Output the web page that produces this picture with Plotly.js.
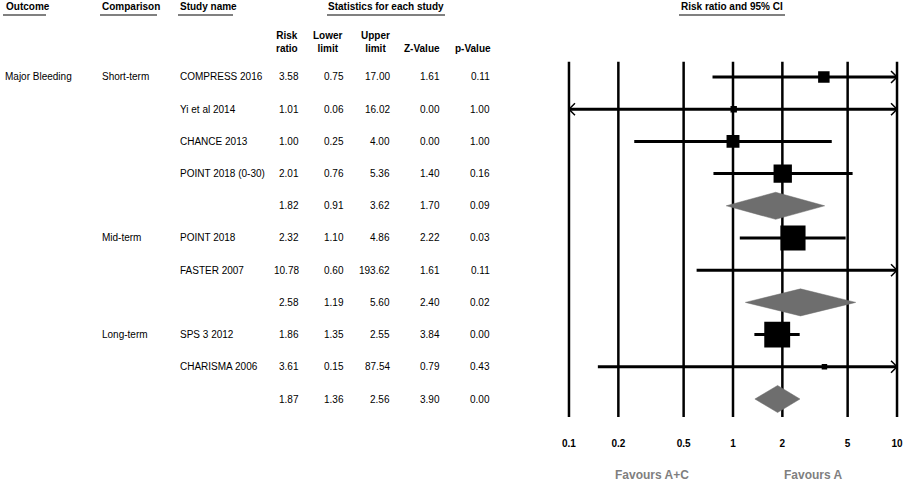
<!DOCTYPE html>
<html>
<head>
<meta charset="utf-8">
<script src="https://cdn.plot.ly/plotly-3.0.1.min.js"></script>
<style>html,body{margin:0;padding:0;background:#fff;}#chart{width:905px;height:484px;}</style>
</head>
<body>
<div id="chart"></div>
<script>
// ---- data ----
const outcomes    = ["Major Bleeding", "", "", "", "", "", "", "", "", "", ""];
const comparisons = ["Short-term", "", "", "", "", "Mid-term", "", "", "Long-term", "", ""];
const studyNames  = ["COMPRESS 2016", "Yi et al 2014", "CHANCE 2013", "POINT 2018 (0-30)", "",
                     "POINT 2018", "FASTER 2007", "", "SPS 3 2012", "CHARISMA 2006", ""];
const rowKinds    = ["study", "study", "study", "study", "summary",
                     "study", "study", "summary", "study", "study", "summary"];
const riskRatio   = [3.58, 1.01, 1.00, 2.01, 1.82, 2.32, 10.78, 2.58, 1.86, 3.61, 1.87];
const lowerLimit  = [0.75, 0.06, 0.25, 0.76, 0.91, 1.10, 0.60, 1.19, 1.35, 0.15, 1.36];
const upperLimit  = [17.00, 16.02, 4.00, 5.36, 3.62, 4.86, 193.62, 5.60, 2.55, 87.54, 2.56];
const zValue      = [1.61, 0.00, 0.00, 1.40, 1.70, 2.22, 1.61, 2.40, 3.84, 0.79, 3.90];
const pValue      = [0.11, 1.00, 1.00, 0.16, 0.09, 0.03, 0.11, 0.02, 0.00, 0.43, 0.00];
const tickValues  = [0.1, 0.2, 0.5, 1, 2, 5, 10];
const tickLabels  = ["0.1", "0.2", "0.5", "1", "2", "5", "10"];
const favourLeft  = "Favours A+C";
const favourRight = "Favours A";

// ---- layout constants ----
const W = 905, H = 484, PLOT_H = 433;
const FONT = "Liberation Sans, Arial, sans-serif";
const XMIN = 0.1, XMAX = 10;
const px = x => x / W;               // paper x from pixel
const py = y => 1 - y / PLOT_H;      // paper y from pixel
const rows = riskRatio.map((_, i) => i);

const traces = [];

// vertical reference lines
const vx = [], vy = [];
tickValues.forEach(v => { vx.push(v, v, null); vy.push(-0.47, 10.56, null); });
traces.push({type: "scatter", mode: "lines", x: vx, y: vy,
  line: {color: "#000", width: 2.5}, hoverinfo: "skip"});

// relative weights within each subgroup (inverse variance from the CI)
const invVar = rows.map(i => {
  const se = (Math.log(upperLimit[i]) - Math.log(lowerLimit[i])) / (2 * 1.96);
  return 1 / (se * se);
});
const groupTotal = {};
let g = 0;
const groupOf = rows.map(i => { const gg = g; if (rowKinds[i] === "summary") g++; return gg; });
rows.forEach(i => { if (rowKinds[i] === "study") groupTotal[groupOf[i]] = (groupTotal[groupOf[i]] || 0) + invVar[i]; });

// CI lines and arrows
const cx = [], cy = [], ax = [], ay = [];
const dDec = 6 / 164, dRow = 6 / 32.2;
rows.forEach(i => {
  if (rowKinds[i] !== "study") return;
  const lo = Math.max(lowerLimit[i], XMIN), hi = Math.min(upperLimit[i], XMAX);
  cx.push(lo, hi, null); cy.push(i, i, null);
  if (upperLimit[i] > XMAX) {
    const b = XMAX * Math.pow(10, -dDec);
    ax.push(b, XMAX, b, null); ay.push(i - dRow, i, i + dRow, null);
  }
  if (lowerLimit[i] < XMIN) {
    const b = XMIN * Math.pow(10, dDec);
    ax.push(b, XMIN, b, null); ay.push(i - dRow, i, i + dRow, null);
  }
});
traces.push({type: "scatter", mode: "lines", x: cx, y: cy,
  line: {color: "#000", width: 3}, hoverinfo: "skip"});
traces.push({type: "scatter", mode: "lines", x: ax, y: ay,
  line: {color: "#000", width: 1.5}, hoverinfo: "skip"});

// study squares
const sx = [], sy = [], ss = [];
rows.forEach(i => {
  if (rowKinds[i] !== "study") return;
  if (riskRatio[i] < XMIN || riskRatio[i] > XMAX) return;
  const pct = 100 * invVar[i] / groupTotal[groupOf[i]];
  sx.push(riskRatio[i]); sy.push(i); ss.push(Math.max(5.5, 2.6 * Math.sqrt(pct)));
});
traces.push({type: "scatter", mode: "markers", x: sx, y: sy,
  marker: {symbol: "square", color: "#000", size: ss, opacity: 1, line: {width: 0}}, hoverinfo: "skip"});

// summary diamonds
const halfH = 0.42;
rows.forEach(i => {
  if (rowKinds[i] !== "summary") return;
  traces.push({type: "scatter", mode: "lines", fill: "toself",
    x: [lowerLimit[i], riskRatio[i], upperLimit[i], riskRatio[i], lowerLimit[i]],
    y: [i, i - halfH, i, i + halfH, i],
    fillcolor: "#6e6e6e", line: {color: "#6e6e6e", width: 0.5}, hoverinfo: "skip"});
});

// ---- annotations (table) ----
const ann = [];
const txt = (text, x, y, opts = {}) => ann.push(Object.assign({
  text, x, y, xref: "paper", yref: "paper", showarrow: false,
  xanchor: "left", yanchor: "middle",
  font: {family: FONT, size: 10, color: "#000"}
}, opts));
const bold = (s, size = 10, color = "#000") => ({family: FONT, size, color, weight: "bold"});

// top headers
txt("<b>Outcome</b>", px(4), py(7), {font: bold()});
txt("<b>Comparison</b>", px(100), py(7), {font: bold()});
txt("<b>Study name</b>", px(178), py(7), {font: bold()});
txt("<b>Statistics for each study</b>", px(386), py(7), {xanchor: "center", font: bold()});
txt("<b>Risk ratio and 95% CI</b>", px(732), py(7), {xanchor: "center", font: bold()});
// column headers
txt("<b>Risk<br>ratio</b>", px(287), py(42), {xanchor: "center", font: bold()});
txt("<b>Lower<br>limit</b>", px(328), py(42), {xanchor: "center", font: bold()});
txt("<b>Upper<br>limit</b>", px(375), py(42), {xanchor: "center", font: bold()});
txt("<b>Z-Value</b>", px(422), py(49), {xanchor: "center", font: bold()});
txt("<b>p-Value</b>", px(473), py(49), {xanchor: "center", font: bold()});

// rows
rows.forEach(i => {
  const yo = {yref: "y"};
  if (outcomes[i]) txt(outcomes[i], px(3), i, yo);
  if (comparisons[i]) txt(comparisons[i], px(100), i, yo);
  if (studyNames[i]) txt(studyNames[i], px(178), i, yo);
  txt(riskRatio[i].toFixed(2), px(301), i, {yref: "y", xanchor: "right"});
  txt(lowerLimit[i].toFixed(2), px(346), i, {yref: "y", xanchor: "right"});
  txt(upperLimit[i].toFixed(2), px(392), i, {yref: "y", xanchor: "right"});
  txt(zValue[i].toFixed(2), px(442), i, {yref: "y", xanchor: "right"});
  txt(pValue[i].toFixed(2), px(492), i, {yref: "y", xanchor: "right"});
});

// favours labels
txt("<b>" + favourLeft + "</b>", px(652), py(475), {xanchor: "center", font: bold("", 12, "#7f7f7f")});
txt("<b>" + favourRight + "</b>", px(813), py(475), {xanchor: "center", font: bold("", 12, "#7f7f7f")});

// header underlines
const ul = (x0, x1, y) => ({type: "line", xref: "paper", yref: "paper",
  x0: px(x0), x1: px(x1), y0: py(y), y1: py(y), line: {color: "#808080", width: 2}});
const shapes = [ul(3, 46, 15), ul(100, 157, 15), ul(178, 233, 15), ul(327, 445, 15), ul(679, 785, 15)];

const layout = {
  width: W, height: H,
  margin: {l: 0, r: 0, t: 0, b: H - PLOT_H, pad: 0},
  paper_bgcolor: "#fff", plot_bgcolor: "#fff",
  showlegend: false,
  xaxis: {type: "log", range: [-1.02, 1.02], domain: [565.7 / W, 900.3 / W],
    showgrid: false, zeroline: false, showline: false, ticks: "",
    tickvals: tickValues, ticktext: tickLabels, ticklabelstandoff: 3,
    tickfont: {family: FONT, size: 10, color: "#000", weight: "bold"}, fixedrange: true},
  yaxis: {range: [11.056, -2.391], visible: false, fixedrange: true},
  annotations: ann,
  shapes: shapes
};

Plotly.newPlot("chart", traces, layout, {staticPlot: true, displayModeBar: false});
</script>
</body>
</html>
